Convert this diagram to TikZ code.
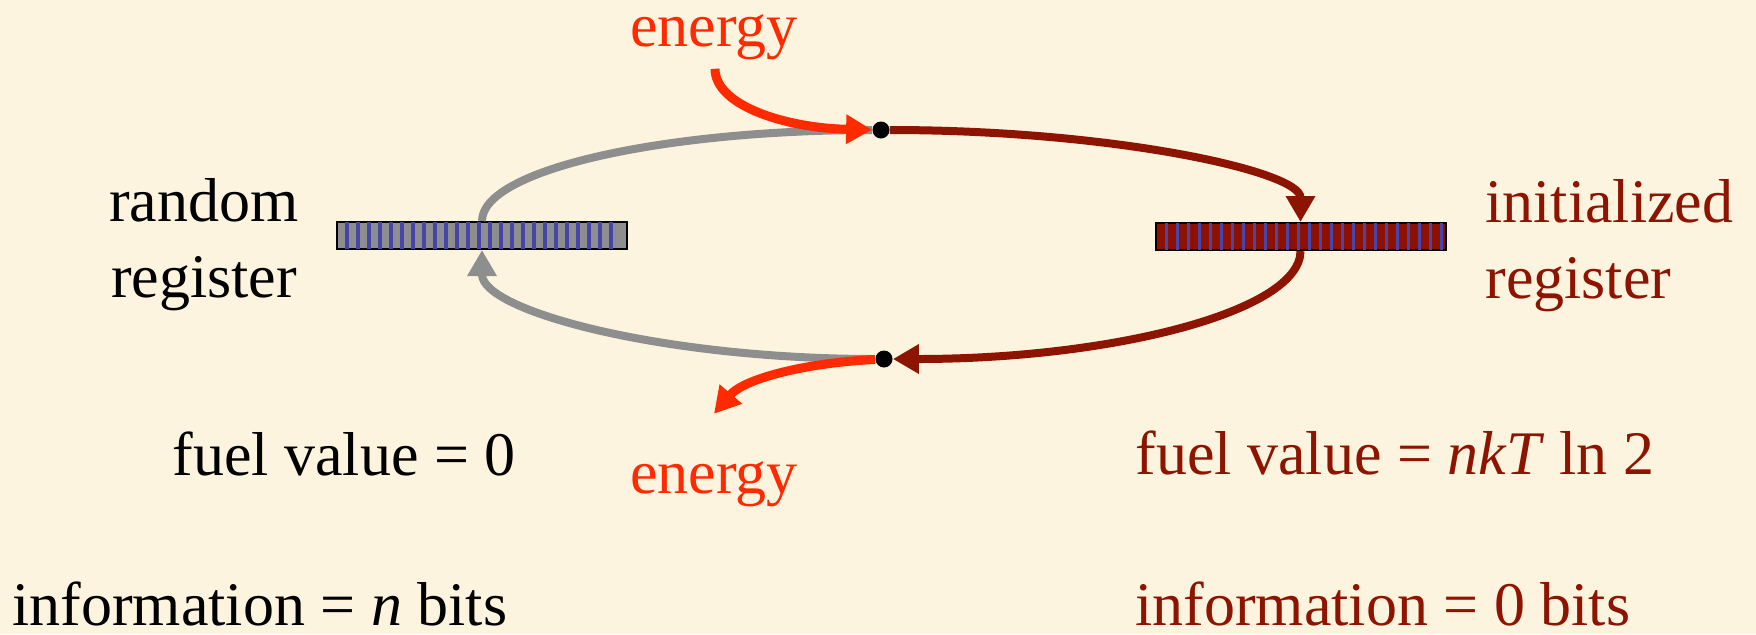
\documentclass[tikz,border=0pt]{standalone}
\usepackage{fontspec}
\setmainfont{Liberation Serif}
\usetikzlibrary{arrows.meta,calc}
\definecolor{cream}{RGB}{253,244,223}
\definecolor{dkred}{RGB}{140,20,0}
\definecolor{regred}{RGB}{142,16,0}
\definecolor{hotred}{RGB}{255,42,0}
\definecolor{loopgray}{RGB}{142,142,142}
\definecolor{stripeblue}{RGB}{70,70,170}
\begin{document}
\begin{tikzpicture}[x=0.5pt, y=-0.5pt, >={Triangle[length=13pt,width=14pt]},
  lbl/.style={inner sep=0pt, font=\fontsize{31}{38}\selectfont},
  register/.style={draw=black, line width=1pt, minimum width=145pt, minimum height=13.5pt, inner sep=0pt},
  stripe/.style={stripeblue, line width=1.6pt, shorten >=0.5pt, shorten <=0.5pt},
  junction/.style={circle, fill=black, inner sep=0pt, minimum size=8.5pt},
  loop/.style={line width=4pt},
  energyarrow/.style={hotred, line width=4.5pt, ->}]
  \useasboundingbox (0,0) rectangle (1756,634);
  \fill[cream] (0,0) rectangle (1756,634);

  % registers
  \node[register, fill=loopgray] (randreg) at (482,235.5) {};
  \foreach \i in {1,...,25}
    \draw[stripe] ([xshift=\i*5.5pt]randreg.south west) -- ([xshift=\i*5.5pt]randreg.north west);
  \node[register, fill=regred] (initreg) at (1300.5,236.5) {};
  \foreach \i in {0,...,25}
    \draw[stripe] ([xshift=6pt+\i*5.5pt]initreg.south west) -- ([xshift=6pt+\i*5.5pt]initreg.north west);

  \node[junction] (tj) at (881,130) {};
  \node[junction] (bj) at (884,359) {};

  % the cycle
  \draw[loop, loopgray] (randreg.north) .. controls +(0,-51) and +(-220,0) .. (tj);
  \draw[loop, dkred, ->] (tj) .. controls +(231,0) and +(0,-51) .. (initreg.north);
  \draw[loop, dkred, ->] (initreg.south) .. controls +(0,60) and +(230,0) .. (bj);
  \draw[loop, loopgray, ->] (bj) .. controls +(-222,0) and +(0,61) .. (randreg.south);

  % energy in and out
  \node[lbl, hotred, anchor=base] (entop) at (714,46) {energy};
  \node[lbl, hotred, anchor=base] (enbot) at (714,493) {energy};
  \draw[energyarrow] ($(entop.south)+(1,9)$) .. controls +(0,37) and +(-95,-2) .. (tj);
  \draw[energyarrow] (bj) .. controls +(-80,4) and +(30,-35) .. ($(enbot.north)+(0,-47)$);

  \node[lbl, anchor=base, align=center] (randlbl) at (204,297) {random\\register};
  \node[lbl, dkred, anchor=base west, align=left] (initlbl) at (1485,298) {initialized\\register};
  \node[lbl, anchor=base west] (fuelzero) at (172,475) {fuel value = 0};
  \node[lbl, anchor=base west] (infon) at (12,625) {information = \textit{n} bits};
  \node[lbl, dkred, anchor=base west] (fuelnkt) at (1135,474) {fuel value = \textit{nkT} ln 2};
  \node[lbl, dkred, anchor=base west] (infozero) at (1135,625) {information = 0 bits};
\end{tikzpicture}
\end{document}
